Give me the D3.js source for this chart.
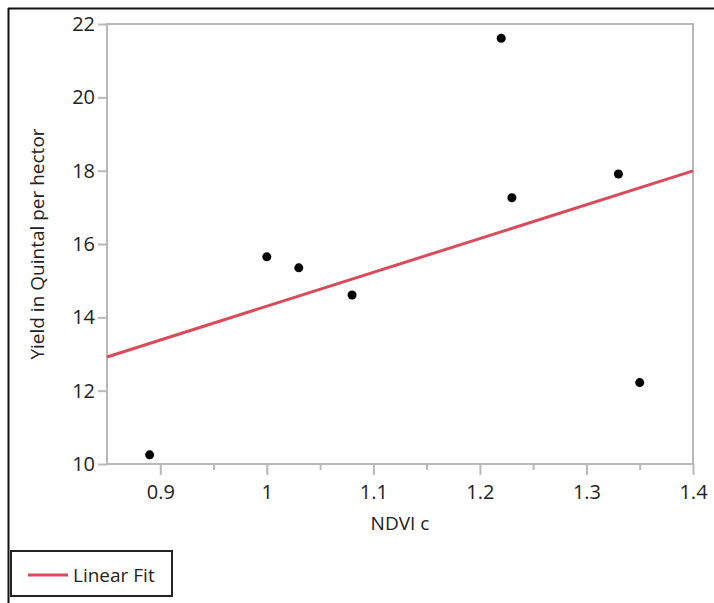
<!DOCTYPE html>
<html>
<head>
<meta charset="utf-8">
<script src="https://cdn.jsdelivr.net/npm/d3@7"></script>
<style>
  html, body { margin: 0; padding: 0; background: #fff; }
  svg { display: block; }
  text { font-family: "Open Sans", "Noto Sans", sans-serif; fill: #222; }
</style>
</head>
<body>
<script>
// ---- data ----
const ndvi  = [0.89, 1.00, 1.03, 1.08, 1.22, 1.23, 1.33, 1.35];
const yieldQ = [10.25, 15.65, 15.35, 14.61, 21.61, 17.26, 17.91, 12.22];
const xTicks = [0.9, 1, 1.1, 1.2, 1.3, 1.4];
const xMinorTicks = [0.95, 1.05, 1.15, 1.25, 1.35];
const yTicks = [10, 12, 14, 16, 18, 20, 22];
const xTitle = "NDVI c";
const yTitle = "Yield in Quintal per hector";
const legendLabel = "Linear Fit";

const W = 714, H = 603;
const svg = d3.select("body").append("svg").attr("width", W).attr("height", H);

const plot = { left: 107, top: 24, right: 693, bottom: 464 };
const x = d3.scaleLinear().domain([0.85, 1.4]).range([plot.left, plot.right]);
const y = d3.scaleLinear().domain([10, 22]).range([plot.bottom, plot.top]);

const gray = "#b8b8b8";

// outer border (top and left)
svg.append("line").attr("x1", 8).attr("y1", 8.5).attr("x2", W).attr("y2", 8.5)
  .attr("stroke", "#111").attr("stroke-width", 2);
svg.append("line").attr("x1", 8.5).attr("y1", 8).attr("x2", 8.5).attr("y2", H)
  .attr("stroke", "#111").attr("stroke-width", 2);

// plot frame
svg.append("rect")
  .attr("x", plot.left).attr("y", plot.top)
  .attr("width", plot.right - plot.left).attr("height", plot.bottom - plot.top)
  .attr("fill", "none").attr("stroke", gray).attr("stroke-width", 2);

// x axis
const xAxis = svg.append("g").attr("transform", `translate(0,${plot.bottom})`)
  .call(d3.axisBottom(x).tickValues(xTicks).tickSize(11).tickPadding(10)
        .tickFormat(d => d3.format("")(+d.toFixed(2))));
xAxis.select(".domain").remove();
xAxis.selectAll(".tick line").attr("stroke", gray).attr("stroke-width", 2);
xAxis.selectAll(".tick text").attr("font-size", 20).attr("fill", "#222")
  .style("font-family", "'Open Sans', sans-serif");

const xMinor = svg.append("g").attr("transform", `translate(0,${plot.bottom})`)
  .call(d3.axisBottom(x).tickValues(xMinorTicks).tickSize(6).tickFormat(""));
xMinor.select(".domain").remove();
xMinor.selectAll(".tick line").attr("stroke", gray).attr("stroke-width", 2);

// y axis
const yAxis = svg.append("g").attr("transform", `translate(${plot.left},0)`)
  .call(d3.axisLeft(y).tickValues(yTicks).tickSize(9).tickPadding(3));
yAxis.select(".domain").remove();
yAxis.selectAll(".tick line").attr("stroke", gray).attr("stroke-width", 2);
yAxis.selectAll(".tick text").attr("font-size", 20).attr("fill", "#222")
  .style("font-family", "'Open Sans', sans-serif");

// axis titles
svg.append("text")
  .attr("x", (plot.left + plot.right) / 2).attr("y", 530)
  .attr("text-anchor", "middle").attr("font-size", 19)
  .text(xTitle);
svg.append("text")
  .attr("transform", `translate(44,${(plot.top + plot.bottom) / 2}) rotate(-90)`)
  .attr("text-anchor", "middle").attr("font-size", 19)
  .text(yTitle);

// linear fit (least squares from the data)
const mx = d3.mean(ndvi), my = d3.mean(yieldQ);
let sxy = 0, sxx = 0;
ndvi.forEach((v, i) => { sxy += (v - mx) * (yieldQ[i] - my); sxx += (v - mx) * (v - mx); });
const slope = sxy / sxx, intercept = my - slope * mx;
const xd = x.domain();
svg.append("line")
  .attr("x1", x(xd[0])).attr("y1", y(intercept + slope * xd[0]))
  .attr("x2", x(xd[1])).attr("y2", y(intercept + slope * xd[1]))
  .attr("stroke", "#d94a5a").attr("stroke-width", 3);

// points
svg.append("g").selectAll("circle")
  .data(ndvi.map((v, i) => [v, yieldQ[i]]))
  .join("circle")
  .attr("cx", d => x(d[0])).attr("cy", d => y(d[1]))
  .attr("r", 4.5).attr("fill", "#000");

// legend
svg.append("rect").attr("x", 11).attr("y", 551).attr("width", 161).attr("height", 45)
  .attr("fill", "#fff").attr("stroke", "#222").attr("stroke-width", 2);
svg.append("line").attr("x1", 28).attr("y1", 575).attr("x2", 68).attr("y2", 575)
  .attr("stroke", "#d94a5a").attr("stroke-width", 3);
svg.append("text").attr("x", 73).attr("y", 582).attr("font-size", 19).text(legendLabel);
</script>
</body>
</html>
